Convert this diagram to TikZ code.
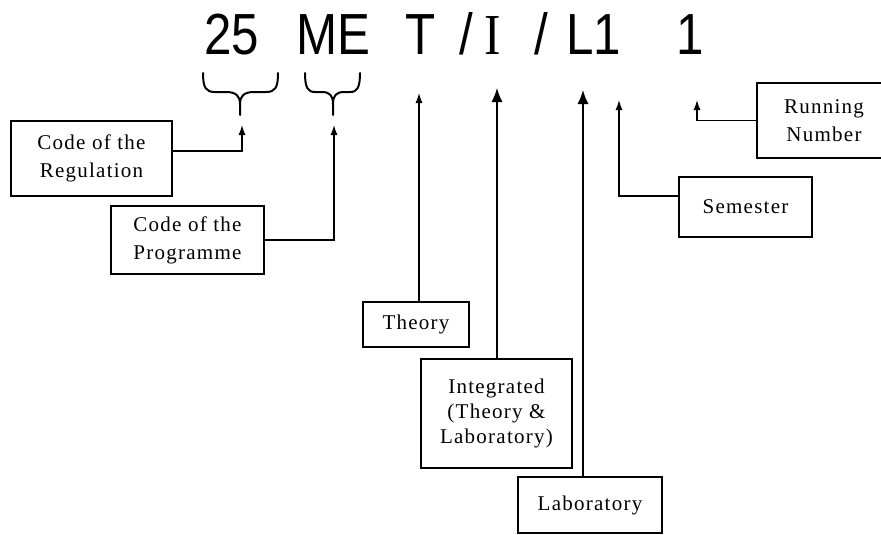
\documentclass[tikz,border=0pt]{standalone}
\usepackage{fontspec}
\usetikzlibrary{arrows.meta}
\setmainfont{Liberation Serif}
\newfontfamily\topsans{Liberation Sans}
\newfontfamily\topserif{Liberation Serif}
\newfontfamily\boxfont{Liberation Serif}[LetterSpace=6]
\begin{document}
\begin{tikzpicture}[x=1pt,y=-1pt,
  tok/.style={anchor=base, inner sep=0pt, font=\topsans\fontsize{58}{58}\selectfont},
  boxnode/.style={draw, line width=1.3pt, inner sep=0pt, align=center,
    font=\boxfont\fontsize{21}{28}\selectfont},
  arr/.style={line width=1.3pt, -{Latex[length=10pt,width=7pt]}},
  bigarr/.style={line width=1.3pt, -{Latex[length=14pt,width=11pt]}},
  bracepath/.style={line width=2pt, line cap=round, line join=round}]
\useasboundingbox (0,0) rectangle (881,535);
\clip (0,0) rectangle (881,535);
% top code tokens
\node[tok] (t25) at (232,55) {\scalebox{0.85}[1]{25}};
\node[tok] (tME) at (333,55) {\scalebox{0.85}[1]{ME}};
\node[tok] (tT) at (421,55) {\scalebox{0.85}[1]{T}};
\node[tok] (ts1) at (466,55) {\scalebox{0.85}[1]{/}};
\node[tok,font=\topserif\fontsize{58}{58}\selectfont] (tI) at (493,55) {\scalebox{0.85}[1]{I}};
\node[tok] (ts2) at (541,55) {\scalebox{0.85}[1]{/}};
\node[tok] (tL) at (594,55) {\scalebox{0.85}[1]{L1}};
\node[tok] (tN) at (690,55) {\scalebox{0.85}[1]{1}};
% braces
\draw[bracepath] (203,73) .. controls (203,88) and (206,92) .. (215,92) -- (226,92)
  .. controls (236,92) and (240,96) .. (240,104) -- (240,115);
\draw[bracepath] (278,73) .. controls (278,88) and (275,92) .. (266,92) -- (254,92)
  .. controls (244,92) and (240,96) .. (240,104);
\draw[bracepath] (305,73) .. controls (305,88) and (308,92) .. (315,92) -- (322,92)
  .. controls (330,92) and (333,96) .. (333,104) -- (333,115);
\draw[bracepath] (360,73) .. controls (360,88) and (357,92) .. (350,92) -- (344,92)
  .. controls (336,92) and (333,96) .. (333,104);
% arrow tips
\coordinate (pReg) at (242,125);
\coordinate (pProg) at (334,125);
\coordinate (pT) at (419,93);
\coordinate (pI) at (497,88);
\coordinate (pL) at (583,90);
\coordinate (pS) at (619,100);
\coordinate (pN) at (697,100);
% boxes
\node[boxnode, minimum width=161pt, minimum height=75pt] (reg) at (91.5,158.5) {Code of the\\Regulation};
\node[boxnode, minimum width=153pt, minimum height=68pt] (prog) at (187.5,240) {Code of the\\Programme};
\node[boxnode, minimum width=106pt, minimum height=45pt] (theory) at (416,324.5) {Theory};
\node[boxnode, minimum width=151pt, minimum height=109pt, font=\boxfont\fontsize{21}{25}\selectfont] (integ) at (496.5,413.5) {Integrated\\(Theory \&\\Laboratory)};
\node[boxnode, minimum width=144pt, minimum height=56pt] (lab) at (590,505) {Laboratory};
\node[boxnode, minimum width=133pt, minimum height=60pt] (sem) at (745.5,207) {Semester};
\node[boxnode, minimum width=134pt, minimum height=75pt] (run) at (824,120.5) {Running\\Number};
% connectors
\draw[arr] ([yshift=7.5pt]reg.east) -| (pReg);
\draw[arr] (prog.east) -| (pProg);
\draw[arr] (theory.north -| pT) -- (pT);
\draw[bigarr] (integ.north -| pI) -- (pI);
\draw[bigarr] (lab.north -| pL) -- (pL);
\draw[arr] ([yshift=11pt]sem.west) -| (pS);
\draw[arr] (run.west) -| (pN);
\end{tikzpicture}
\end{document}
